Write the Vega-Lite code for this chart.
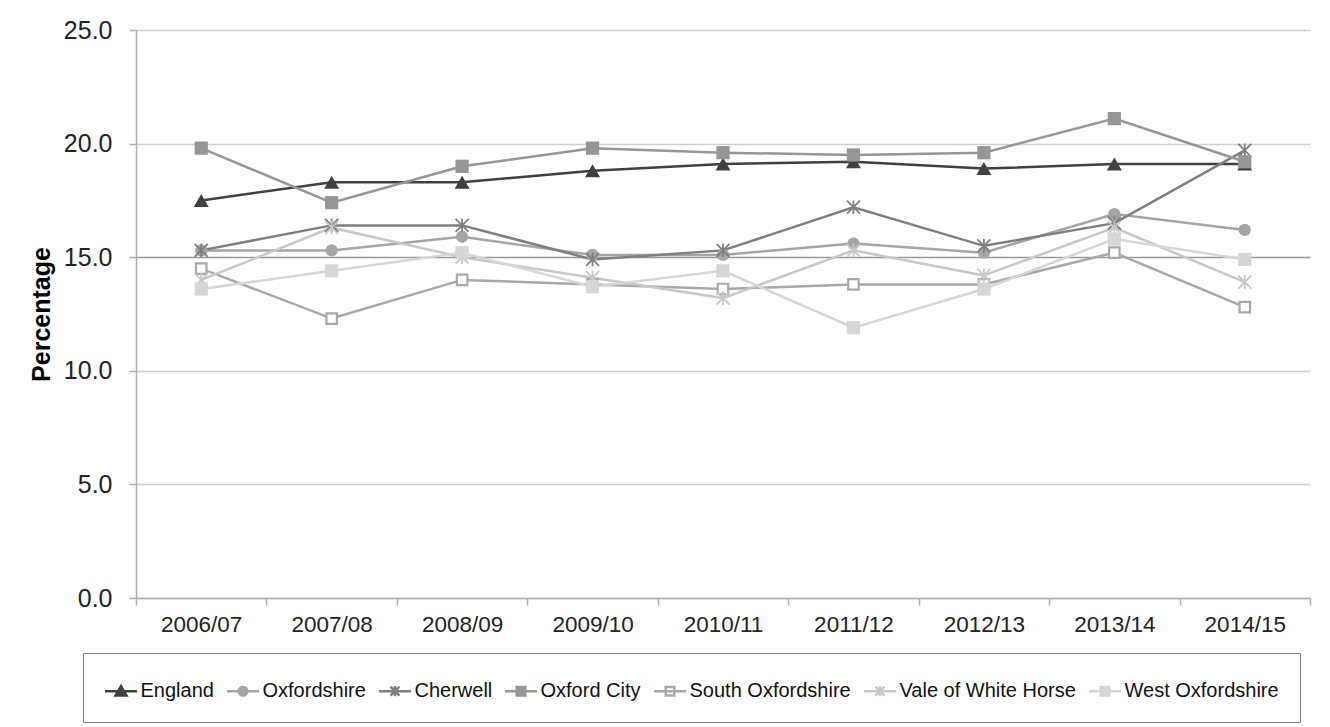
{
  "$schema": "https://vega.github.io/schema/vega-lite/v6.json",
  "width": 1174,
  "height": 568,
  "autosize": {"type": "none"},
  "padding": {"left": 136, "top": 30, "right": 20, "bottom": 129},
  "background": "white",
  "config": {
    "font": "Liberation Sans",
    "view": {"stroke": null},
    "legend": {
      "direction": "horizontal",
      "padding": 20.5,
      "strokeColor": "#808080",
      "columnPadding": 7,
      "labelFontSize": 20,
      "labelColor": "#111111",
      "labelFont": "Liberation Sans",
      "labelLimit": 0,
      "labelOffset": 2,
      "symbolSize": 1024,
      "symbolStrokeWidth": 2.5,
      "symbolOpacity": 1
    }
  },
  "data": {
    "values": [
      {"series": "England", "year": "2006/07", "value": 17.5},
      {"series": "England", "year": "2007/08", "value": 18.3},
      {"series": "England", "year": "2008/09", "value": 18.3},
      {"series": "England", "year": "2009/10", "value": 18.8},
      {"series": "England", "year": "2010/11", "value": 19.1},
      {"series": "England", "year": "2011/12", "value": 19.2},
      {"series": "England", "year": "2012/13", "value": 18.9},
      {"series": "England", "year": "2013/14", "value": 19.1},
      {"series": "England", "year": "2014/15", "value": 19.1},
      {"series": "Oxfordshire", "year": "2006/07", "value": 15.3},
      {"series": "Oxfordshire", "year": "2007/08", "value": 15.3},
      {"series": "Oxfordshire", "year": "2008/09", "value": 15.9},
      {"series": "Oxfordshire", "year": "2009/10", "value": 15.1},
      {"series": "Oxfordshire", "year": "2010/11", "value": 15.1},
      {"series": "Oxfordshire", "year": "2011/12", "value": 15.6},
      {"series": "Oxfordshire", "year": "2012/13", "value": 15.2},
      {"series": "Oxfordshire", "year": "2013/14", "value": 16.9},
      {"series": "Oxfordshire", "year": "2014/15", "value": 16.2},
      {"series": "Cherwell", "year": "2006/07", "value": 15.3},
      {"series": "Cherwell", "year": "2007/08", "value": 16.4},
      {"series": "Cherwell", "year": "2008/09", "value": 16.4},
      {"series": "Cherwell", "year": "2009/10", "value": 14.9},
      {"series": "Cherwell", "year": "2010/11", "value": 15.3},
      {"series": "Cherwell", "year": "2011/12", "value": 17.2},
      {"series": "Cherwell", "year": "2012/13", "value": 15.5},
      {"series": "Cherwell", "year": "2013/14", "value": 16.5},
      {"series": "Cherwell", "year": "2014/15", "value": 19.7},
      {"series": "Oxford City", "year": "2006/07", "value": 19.8},
      {"series": "Oxford City", "year": "2007/08", "value": 17.4},
      {"series": "Oxford City", "year": "2008/09", "value": 19.0},
      {"series": "Oxford City", "year": "2009/10", "value": 19.8},
      {"series": "Oxford City", "year": "2010/11", "value": 19.6},
      {"series": "Oxford City", "year": "2011/12", "value": 19.5},
      {"series": "Oxford City", "year": "2012/13", "value": 19.6},
      {"series": "Oxford City", "year": "2013/14", "value": 21.1},
      {"series": "Oxford City", "year": "2014/15", "value": 19.2},
      {"series": "South Oxfordshire", "year": "2006/07", "value": 14.5},
      {"series": "South Oxfordshire", "year": "2007/08", "value": 12.3},
      {"series": "South Oxfordshire", "year": "2008/09", "value": 14.0},
      {"series": "South Oxfordshire", "year": "2009/10", "value": 13.8},
      {"series": "South Oxfordshire", "year": "2010/11", "value": 13.6},
      {"series": "South Oxfordshire", "year": "2011/12", "value": 13.8},
      {"series": "South Oxfordshire", "year": "2012/13", "value": 13.8},
      {"series": "South Oxfordshire", "year": "2013/14", "value": 15.2},
      {"series": "South Oxfordshire", "year": "2014/15", "value": 12.8},
      {"series": "Vale of White Horse", "year": "2006/07", "value": 14.0},
      {"series": "Vale of White Horse", "year": "2007/08", "value": 16.3},
      {"series": "Vale of White Horse", "year": "2008/09", "value": 15.0},
      {"series": "Vale of White Horse", "year": "2009/10", "value": 14.1},
      {"series": "Vale of White Horse", "year": "2010/11", "value": 13.2},
      {"series": "Vale of White Horse", "year": "2011/12", "value": 15.3},
      {"series": "Vale of White Horse", "year": "2012/13", "value": 14.2},
      {"series": "Vale of White Horse", "year": "2013/14", "value": 16.3},
      {"series": "Vale of White Horse", "year": "2014/15", "value": 13.9},
      {"series": "West Oxfordshire", "year": "2006/07", "value": 13.6},
      {"series": "West Oxfordshire", "year": "2007/08", "value": 14.4},
      {"series": "West Oxfordshire", "year": "2008/09", "value": 15.2},
      {"series": "West Oxfordshire", "year": "2009/10", "value": 13.7},
      {"series": "West Oxfordshire", "year": "2010/11", "value": 14.4},
      {"series": "West Oxfordshire", "year": "2011/12", "value": 11.9},
      {"series": "West Oxfordshire", "year": "2012/13", "value": 13.6},
      {"series": "West Oxfordshire", "year": "2013/14", "value": 15.8},
      {"series": "West Oxfordshire", "year": "2014/15", "value": 14.9}
    ]
  },
  "encoding": {
    "x": {
      "field": "year",
      "type": "ordinal",
      "sort": null,
      "scale": {"type": "band", "paddingInner": 0, "paddingOuter": 0},
      "axis": {
        "title": null,
        "labelAngle": 0,
        "labelFontSize": 22.5,
        "labelColor": "#222222",
        "labelPadding": 8,
        "tickSize": 7,
        "tickColor": "#b0b0b0",
        "tickWidth": 1.5,
        "tickBand": "extent",
        "domainColor": "#b0b0b0",
        "domainWidth": 1.5,
        "grid": false
      }
    },
    "y": {
      "field": "value",
      "type": "quantitative",
      "scale": {"domain": [0, 25], "nice": false},
      "axis": {
        "title": "Percentage",
        "values": [0, 5, 10, 15, 20, 25],
        "format": ".1f",
        "labelFontSize": 25,
        "labelColor": "#222222",
        "labelPadding": 17,
        "tickSize": 7,
        "tickColor": "#b0b0b0",
        "tickWidth": 1.5,
        "domainColor": "#b0b0b0",
        "domainWidth": 1.5,
        "grid": true,
        "gridColor": {"condition": {"test": "datum.value === 15", "value": "#999999"}, "value": "#cfcfcf"},
        "gridWidth": 1.5,
        "titleFontSize": 25,
        "titleFontWeight": "bold",
        "titleColor": "#000000",
        "titleAngle": -90,
        "titleX": -95,
        "titleY": 284,
        "titleAlign": "center",
        "titleBaseline": "middle"
      }
    }
  },
  "layer": [
    {
      "mark": {"type": "line", "strokeWidth": 2.5},
      "encoding": {
        "stroke": {
          "field": "series",
          "type": "nominal",
          "title": null,
          "scale": {
            "domain": ["England", "Oxfordshire", "Cherwell", "Oxford City", "South Oxfordshire", "Vale of White Horse", "West Oxfordshire"],
            "range": ["#404040", "#a5a5a5", "#7f7f7f", "#969696", "#a8a8a8", "#c8c8c8", "#d6d6d6"]
          }
        },
        "strokeWidth": {
          "condition": {"test": "datum.series === 'England'", "value": 3},
          "value": 2.5
        }
      }
    },
    {
      "transform": [{"filter": "datum.series === 'England'"}],
      "mark": {"type": "point", "shape": "triangle-up", "size": 225, "opacity": 1, "filled": true, "color": "#404040", "strokeWidth": 1}
    },
    {
      "transform": [{"filter": "datum.series === 'Oxfordshire'"}],
      "mark": {"type": "point", "shape": "circle", "size": 150, "opacity": 1, "filled": true, "color": "#a5a5a5", "strokeWidth": 1}
    },
    {
      "transform": [{"filter": "datum.series === 'Cherwell'"}],
      "mark": {"type": "point", "shape": "M-1,-1L1,1M-1,1L1,-1M0,-1.05V1.05", "size": 169, "opacity": 1, "filled": false, "color": "#7f7f7f", "strokeWidth": 1.8}
    },
    {
      "transform": [{"filter": "datum.series === 'Oxford City'"}],
      "mark": {"type": "point", "shape": "square", "size": 175, "opacity": 1, "filled": true, "color": "#969696", "strokeWidth": 1}
    },
    {
      "transform": [{"filter": "datum.series === 'South Oxfordshire'"}],
      "mark": {"type": "point", "shape": "square", "size": 110, "opacity": 1, "filled": false, "fill": "#ffffff", "stroke": "#a8a8a8", "strokeWidth": 2.2}
    },
    {
      "transform": [{"filter": "datum.series === 'Vale of White Horse'"}],
      "mark": {"type": "point", "shape": "M-1,-1L1,1M-1,1L1,-1M0,-1.05V1.05", "size": 169, "opacity": 1, "filled": false, "color": "#c8c8c8", "strokeWidth": 1.8}
    },
    {
      "transform": [{"filter": "datum.series === 'West Oxfordshire'"}],
      "mark": {"type": "point", "shape": "square", "size": 175, "opacity": 1, "filled": true, "color": "#d6d6d6", "strokeWidth": 1}
    },
    {
      "mark": {"type": "point", "size": 1024, "opacity": 0, "strokeWidth": 2.5},
      "encoding": {
        "shape": {
          "field": "series",
          "type": "nominal",
          "title": null,
          "scale": {
            "domain": ["England", "Oxfordshire", "Cherwell", "Oxford City", "South Oxfordshire", "Vale of White Horse", "West Oxfordshire"],
            "range": [
              "M-1,0H1M0,-0.32L0.34,0.26L-0.34,0.26Z",
              "M-1,0H1M0.27,0A0.27,0.27,0,1,1,-0.27,0A0.27,0.27,0,1,1,0.27,0Z",
              "M-1,0H1M-0.28,-0.28L0.28,0.28M-0.28,0.28L0.28,-0.28M0,-0.32V0.32",
              "M-1,0H1M-0.27,-0.27H0.27V0.27H-0.27Z",
              "M-1,0H1M-0.27,-0.27H0.27V0.27H-0.27Z",
              "M-1,0H1M-0.28,-0.28L0.28,0.28M-0.28,0.28L0.28,-0.28M0,-0.32V0.32",
              "M-1,0H1M-0.27,-0.27H0.27V0.27H-0.27Z"
            ]
          },
          "legend": {
            "orient": "none",
            "legendX": -53,
            "legendY": 623,
            "direction": "horizontal",
            "columns": 7,
            "padding": 20.5,
            "strokeColor": "#808080",
            "columnPadding": 7,
            "labelLimit": 0,
            "symbolSize": 1024,
            "symbolStrokeWidth": 2.5,
            "symbolOpacity": 1
          }
        },
        "fill": {
          "field": "series",
          "type": "nominal",
          "title": null,
          "scale": {
            "domain": ["England", "Oxfordshire", "Cherwell", "Oxford City", "South Oxfordshire", "Vale of White Horse", "West Oxfordshire"],
            "range": ["#404040", "#a5a5a5", "#7f7f7f", "#969696", "#ffffff", "#c8c8c8", "#d6d6d6"]
          }
        },
        "stroke": {"field": "series", "type": "nominal", "title": null}
      }
    }
  ]
}
